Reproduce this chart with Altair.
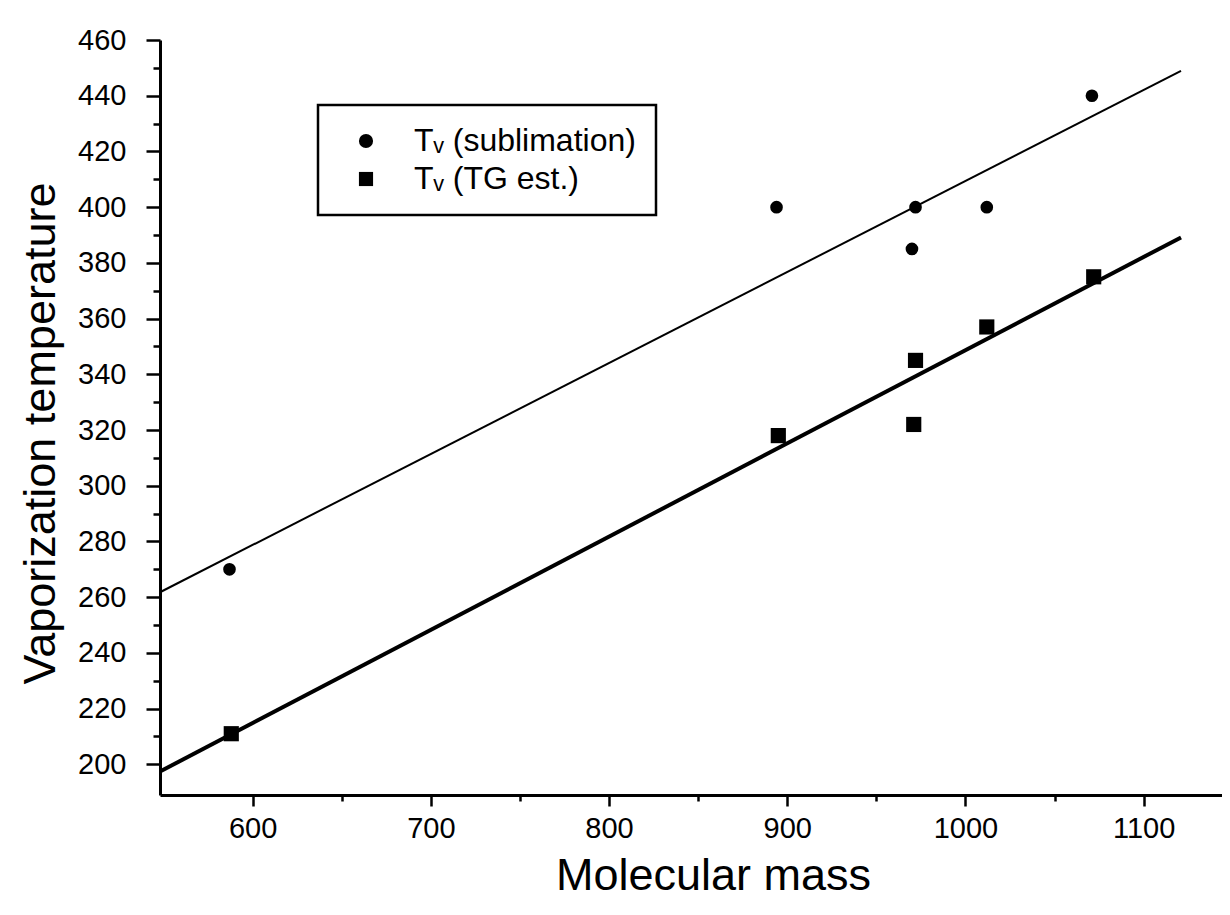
import altair as alt
import pandas as pd

series_names = ["Tᵥ (sublimation)", "Tᵥ (TG est.)"]

sub_mass = [587, 894, 970, 972, 1012, 1071]
sub_temp = [270, 400, 385, 400, 400, 440]

tg_mass = [588, 895, 971, 972, 1012, 1072]
tg_temp = [211, 318, 322, 345, 357, 375]

x_ticks = [600, 650, 700, 750, 800, 850, 900, 950, 1000, 1050, 1100]
y_ticks = list(range(200, 461, 10))

rows = []
for m, t in zip(sub_mass, sub_temp):
    rows.append({"mass": m, "temp": t, "series": series_names[0]})
for m, t in zip(tg_mass, tg_temp):
    rows.append({"mass": m, "temp": t, "series": series_names[1]})
df = pd.DataFrame(rows)

FONT = "Liberation Sans"

x_enc = alt.X(
    "mass:Q",
    scale=alt.Scale(domain=[548, 1144], nice=False, zero=False),
    axis=alt.Axis(
        title="Molecular mass",
        values=x_ticks,
        format="d",
        labelExpr="datum.value % 100 == 0 ? datum.label : ''",
        tickSize={"condition": {"test": "datum.value % 100 == 0", "value": 11}, "value": 6},
        labelPadding=8,
        titleX=553,
        titleY=94,
        titleAlign="center",
        titleBaseline="alphabetic",
    ),
)
y_enc = alt.Y(
    "temp:Q",
    scale=alt.Scale(domain=[189, 460], nice=False, zero=False),
    axis=alt.Axis(
        title="Vaporization temperature",
        values=y_ticks,
        format="d",
        labelExpr="datum.value % 20 == 0 ? datum.label : ''",
        tickSize={"condition": {"test": "datum.value % 20 == 0", "value": 14}, "value": 7},
        labelPadding=20,
        titleX=-106,
        titleY=393,
        titleAngle=270,
        titleAlign="center",
        titleBaseline="alphabetic",
    ),
)

shape_enc = alt.Shape(
    "series:N",
    scale=alt.Scale(domain=series_names, range=["circle", "square"]),
    legend=alt.Legend(
        title=None,
        orient="none",
        legendX=158,
        legendY=65,
        strokeColor="black",
        fillColor="white",
        padding=20,
        labelFontSize=32,
        labelFont=FONT,
        labelColor="black",
        labelLimit=500,
        symbolSize=200,
        symbolFillColor="black",
        symbolStrokeColor="black",
        symbolOffset=12,
        labelOffset=32,
        rowPadding=6,
    ),
)

base = alt.Chart(df)

line_sub = (
    base.transform_filter(alt.datum.series == series_names[0])
    .transform_regression("mass", "temp", extent=[548, 1121])
    .mark_line(color="black", strokeWidth=2)
    .encode(x=x_enc, y=y_enc)
)
line_tg = (
    base.transform_filter(alt.datum.series == series_names[1])
    .transform_regression("mass", "temp", extent=[548, 1121])
    .mark_line(color="black", strokeWidth=4)
    .encode(x=x_enc, y=y_enc)
)

pts_sub = (
    base.transform_filter(alt.datum.series == series_names[0])
    .mark_point(filled=True, opacity=1, color="black", size=160)
    .encode(x=x_enc, y=y_enc, shape=shape_enc)
)
pts_tg = (
    base.transform_filter(alt.datum.series == series_names[1])
    .mark_point(filled=True, opacity=1, color="black", size=230)
    .encode(x=x_enc, y=y_enc, shape=shape_enc)
)

chart = (
    alt.layer(line_sub, line_tg, pts_sub, pts_tg)
    .properties(
        width=1062,
        height=755,
        autosize=alt.AutoSizeParams(type="none"),
        padding={"left": 152, "top": 32, "right": 0, "bottom": 110},
        background="white",
    )
    .configure_view(stroke=None)
    .configure_legend(strokeWidth=2.5, cornerRadius=0)
    .configure_axis(
        grid=False,
        domainColor="black",
        domainWidth=3,
        tickColor="black",
        tickWidth=2.5,
        labelColor="black",
        labelFont=FONT,
        labelFontSize=29,
        titleColor="black",
        titleFont=FONT,
        titleFontSize=45,
        titleFontWeight="normal",
    )
)

chart.save("out.html", embed_options={"renderer": "svg", "actions": False})
